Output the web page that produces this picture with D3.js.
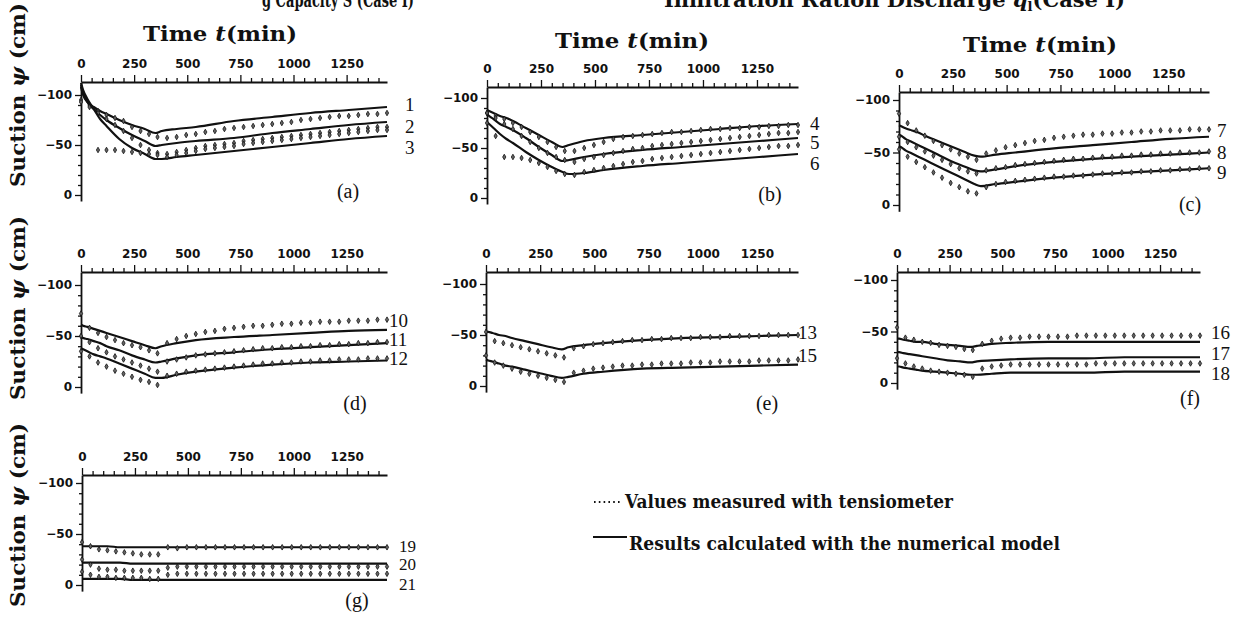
<!DOCTYPE html>
<html><head><meta charset="utf-8">
<script src="https://cdn.jsdelivr.net/npm/d3@7"></script>
<style>body{margin:0;background:#fff}svg{display:block}</style>
</head><body><svg id="c" width="1245" height="629"></svg>
<script>
// ---------- DATA ----------
const measT = [0,40,80,120,160,200,240,280,320,360,405,450,495,540,585,630,675,720,765,810,855,900,945,990,1035,1080,1125,1170,1215,1260,1305,1350,1395,1440];
const calcT = [0,10,30,60,90,120,180,240,300,350,380,450,540,720,900,1080,1260,1440];
const timeTickLabels = [0,250,500,750,1000,1250];
const suctionTickLabels = [-100,-50,0];
const panelNames = ["(a)","(b)","(c)","(d)","(e)","(f)","(g)"];
const panelSensors = [[1,2,3],[4,5,6],[7,8,9],[10,11,12],[13,15],[16,17,18],[19,20,21]];

const calc1 = [-108,-100,-93,-88,-84,-81,-75,-70,-66,-62,-64,-66,-68,-74,-78,-82,-85,-88];
const calc2 = [-110,-102,-93,-86,-80,-75,-67,-60,-54,-49,-50,-52,-54,-57,-62,-66,-70,-73];
const calc3 = [-112,-105,-96,-86,-76,-69,-56,-47,-41,-36,-36,-38,-40,-44,-48,-52,-56,-59];
const calc4 = [-88,-87,-85,-82,-80,-77,-70,-63,-56,-51,-53,-57,-60,-63,-66,-69,-72,-74];
const calc5 = [-84,-82,-79,-74,-71,-68,-60,-51,-43,-37,-38,-41,-44,-48,-51,-54,-57,-60];
const calc6 = [-76,-74,-70,-64,-59,-55,-46,-38,-31,-26,-24,-25,-28,-32,-35,-38,-41,-44];
const calc7 = [-76,-75,-73,-71,-69,-66,-61,-56,-51,-47,-46,-48,-50,-54,-57,-60,-63,-65];
const calc8 = [-67,-66,-63,-60,-57,-54,-48,-42,-37,-33,-32,-34,-37,-41,-44,-46,-48,-50];
const calc9 = [-56,-55,-52,-49,-46,-43,-37,-31,-25,-20,-18,-20,-22,-26,-29,-31,-33,-35];
const calc10 = [-61,-60,-59,-57,-55,-53,-49,-45,-41,-38,-40,-43,-46,-49,-51,-53,-55,-56];
const calc11 = [-49,-48,-47,-45,-43,-40,-36,-31,-27,-24,-25,-28,-31,-34,-37,-39,-41,-43];
const calc12 = [-38,-37,-35,-32,-30,-28,-23,-18,-13,-9,-9,-12,-15,-19,-22,-24,-25,-26];
const calc13 = [-53,-53,-52,-50,-49,-47,-44,-41,-38,-36,-38,-40,-42,-45,-47,-48,-49,-50];
const calc15 = [-26,-25,-24,-22,-20,-19,-16,-13,-10,-8,-9,-12,-14,-17,-18,-19,-20,-21];
const calc16 = [-43,-43,-42,-41,-40,-40,-38,-37,-36,-35,-36,-38,-39,-40,-40,-40,-40,-40];
const calc17 = [-30,-30,-29,-28,-27,-26,-24,-22,-21,-20,-21,-22,-23,-24,-24,-25,-25,-25];
const calc18 = [-16,-16,-15,-14,-13,-12,-11,-10,-9,-8,-8,-9,-10,-10,-10,-11,-11,-11];
const calc19 = [-38,-38,-38,-38,-38,-38,-37,-37,-37,-37,-37,-37,-37,-37,-37,-37,-37,-37];
const calc20 = [-22,-22,-22,-22,-22,-22,-22,-21,-21,-21,-21,-21,-21,-21,-21,-21,-21,-21];
const calc21 = [-6,-6,-6,-6,-6,-6,-6,-5,-5,-5,-5,-5,-5,-5,-5,-5,-5,-5];

const meas1 = [-95,-90,-84,-80,-77,-74,-68,-64,-61,-58,-57,-58,-60,-61,-63,-64,-66,-67,-68,-69,-70,-71,-72,-73,-75,-76,-77,-78,-79,-79,-80,-81,-81,-82];
const meas2 = [-93,-88,-82,-76,-70,-64,-57,-50,-45,-42,-41,-43,-45,-47,-49,-50,-51,-52,-54,-55,-56,-57,-58,-59,-60,-61,-62,-63,-64,-65,-66,-67,-68,-68];
const meas3 = [null,null,-45,-45,-45,-44,-43,-42,-41,-40,-38,-40,-42,-44,-46,-47,-48,-49,-51,-52,-53,-54,-55,-56,-57,-58,-59,-60,-61,-62,-63,-64,-65,-65];
const meas4 = [-85,-82,-79,-75,-71,-66,-61,-56,-51,-47,-47,-50,-53,-56,-59,-61,-62,-63,-64,-65,-66,-66,-67,-68,-69,-69,-70,-70,-71,-71,-72,-72,-73,-73];
const meas5 = [-85,-80,-74,-69,-62,-56,-50,-45,-41,-38,-36,-39,-41,-43,-45,-47,-49,-50,-52,-53,-54,-55,-56,-57,-58,-59,-60,-61,-62,-63,-64,-65,-65,-66];
const meas6 = [-75,-62,-41,-41,-40,-38,-35,-31,-27,-24,-23,-26,-28,-30,-32,-34,-36,-37,-39,-40,-41,-42,-43,-44,-45,-46,-47,-48,-49,-50,-51,-52,-52,-53];
const meas7 = [-87,-78,-71,-66,-61,-57,-53,-49,-46,-43,-49,-52,-55,-57,-59,-61,-62,-64,-65,-66,-67,-67,-68,-68,-69,-69,-70,-70,-71,-71,-71,-72,-72,-72];
const meas8 = [-65,-60,-55,-51,-47,-43,-39,-35,-32,-30,-33,-35,-36,-38,-39,-40,-41,-42,-43,-44,-44,-45,-46,-46,-47,-47,-48,-48,-49,-49,-50,-50,-50,-51];
const meas9 = [-53,-46,-41,-36,-31,-26,-21,-17,-13,-11,-17,-20,-22,-23,-24,-25,-26,-27,-27,-28,-28,-29,-30,-30,-31,-31,-32,-32,-33,-33,-34,-34,-35,-35];
const meas10 = [-72,-58,-53,-49,-46,-43,-41,-39,-36,-33,-43,-47,-50,-52,-54,-55,-57,-58,-59,-60,-60,-61,-62,-62,-63,-63,-64,-64,-64,-65,-65,-65,-66,-66];
const meas11 = [-50,-44,-38,-34,-30,-27,-24,-21,-18,-15,-25,-27,-29,-31,-32,-33,-34,-35,-36,-37,-38,-38,-39,-39,-40,-40,-41,-41,-42,-42,-43,-43,-44,-44];
const meas12 = [-35,-30,-24,-20,-16,-13,-10,-7,-5,-2,-11,-13,-15,-16,-17,-18,-19,-20,-21,-22,-23,-23,-24,-24,-25,-25,-26,-26,-27,-27,-27,-28,-28,-28];
const meas13 = [-53,-44,-42,-40,-38,-36,-34,-32,-30,-28,-37,-39,-41,-42,-43,-44,-45,-45,-46,-46,-47,-47,-47,-48,-48,-48,-49,-49,-49,-49,-50,-50,-50,-50];
const meas15 = [-30,-23,-20,-17,-14,-12,-10,-8,-6,-4,-13,-15,-17,-18,-19,-20,-20,-21,-21,-22,-22,-22,-23,-23,-23,-24,-24,-24,-24,-25,-25,-25,-25,-26];
const meas16 = [-54,-44,-42,-40,-39,-37,-36,-35,-33,-32,-38,-41,-43,-44,-44,-45,-45,-45,-45,-45,-46,-46,-46,-46,-46,-46,-46,-46,-46,-46,-46,-46,-46,-46];
const meas17 = [];
const meas18 = [-24,-19,-16,-14,-12,-11,-10,-9,-8,-6,-14,-16,-17,-18,-18,-18,-18,-18,-18,-18,-18,-18,-19,-19,-19,-19,-19,-19,-19,-19,-19,-19,-19,-19];
const meas19 = [-42,-38,-35,-34,-33,-32,-31,-30,-30,-30,-37,-36,-37,-37,-37,-37,-37,-37,-37,-37,-37,-37,-37,-37,-37,-37,-37,-37,-37,-37,-37,-37,-37,-37];
const meas20 = [-25,-20,-16,-15,-15,-14,-14,-14,-14,-14,-17,-18,-18,-18,-18,-18,-18,-18,-18,-18,-18,-18,-18,-18,-18,-18,-18,-18,-18,-18,-18,-18,-18,-18];
const meas21 = [-13,-10,-8,-8,-7,-7,-7,-7,-6,-6,-10,-11,-11,-11,-11,-11,-11,-11,-11,-11,-11,-11,-11,-11,-11,-11,-11,-11,-11,-11,-11,-11,-11,-11];

const calcBy = {1:calc1,2:calc2,3:calc3,4:calc4,5:calc5,6:calc6,7:calc7,8:calc8,9:calc9,10:calc10,11:calc11,12:calc12,13:calc13,15:calc15,16:calc16,17:calc17,18:calc18,19:calc19,20:calc20,21:calc21};
const measBy = {1:meas1,2:meas2,3:meas3,4:meas4,5:meas5,6:meas6,7:meas7,8:meas8,9:meas9,10:meas10,11:meas11,12:meas12,13:meas13,15:meas15,16:meas16,17:meas17,18:meas18,19:meas19,20:meas20,21:meas21};

// ---------- LAYOUT ----------
const layout = [
  {left:81, right:387, y100:95, y0:195, axisY:82, lab:[348,191], nx:405, ny:[104,126,147], fs:19},
  {left:487,right:798, y100:98, y0:198, axisY:87, lab:[770,194], nx:810, ny:[123,142,163], fs:19},
  {left:899,right:1209,y100:100,y0:205, axisY:92, lab:[1190,204],nx:1217,ny:[130,152,172], fs:19},
  {left:81, right:387, y100:285,y0:387, axisY:272,lab:[355,403], nx:389, ny:[320,339,358], fs:19},
  {left:486,right:798, y100:284,y0:386, axisY:272,lab:[767,403], nx:798, ny:[332,355], fs:19},
  {left:897,right:1200,y100:280,y0:383, axisY:272,lab:[1190,398],nx:1211,ny:[332,353,373], fs:19},
  {left:82, right:387, y100:483,y0:585, axisY:475,lab:[357,600], nx:399, ny:[546,564,584], fs:17}
];

const svg = d3.select("#c");
const serif = "'DejaVu Serif','Liberation Serif',serif";
const times = "'Liberation Serif','Times New Roman',serif";
const sans = "'DejaVu Sans',sans-serif";
const ink = "#111";

// top titles (cropped by the upper edge, as in the source figure)
svg.append("text").attr("x",262).attr("y",7).attr("font-family",serif).attr("font-weight","bold")
  .attr("font-size",21).attr("fill",ink).attr("textLength",152).attr("lengthAdjust","spacingAndGlyphs")
  .text("g Capacity S (Case I)");
const t2 = svg.append("text").attr("x",664).attr("y",7).attr("font-family",serif).attr("font-weight","bold")
  .attr("font-size",21).attr("fill",ink);
t2.append("tspan").text("Infiltration Ration Discharge ");
t2.append("tspan").attr("font-style","italic").text("q");
t2.append("tspan").attr("font-size",13).attr("dy",4).text("l");
t2.append("tspan").attr("dy",-4).text("(Case I)");

// time titles
[[220,41],[632,48],[1040,52]].forEach(p=>{
  const t = svg.append("text").attr("x",p[0]).attr("y",p[1]).attr("text-anchor","middle")
    .attr("font-family",serif).attr("font-weight","bold").attr("font-size",20).attr("fill",ink)
    .attr("textLength",154).attr("lengthAdjust","spacingAndGlyphs");
  t.append("tspan").text("Time ");
  t.append("tspan").attr("font-style","italic").text("t");
  t.append("tspan").text("(min)");
});

// y titles
[95,308,515].forEach(cy=>{
  const t = svg.append("text").attr("transform",`translate(25,${cy}) rotate(-90)`).attr("text-anchor","middle")
    .attr("font-family",serif).attr("font-weight","bold").attr("font-size",20).attr("fill",ink)
    .attr("textLength",184).attr("lengthAdjust","spacingAndGlyphs");
  t.append("tspan").text("Suction ");
  t.append("tspan").attr("font-style","italic").text("ψ");
  t.append("tspan").text(" (cm)");
});

const minorT = d3.range(0,1441,50).filter(t=>t%250!==0);
const minorY = d3.range(-110,1,10).filter(v=>v%50!==0);

layout.forEach((L,i)=>{
  const g = svg.append("g");
  const x = d3.scaleLinear().domain([0,1440]).range([L.left,L.right]);
  const y = d3.scaleLinear().domain([-100,0]).range([L.y100,L.y0]);
  const yAx = d3.scaleLinear().domain([y.invert(L.axisY),6]).range([L.axisY,y(6)]);

  g.append("g").attr("transform",`translate(0,${L.axisY})`)
    .call(d3.axisTop(x).tickValues(timeTickLabels).tickSize(7).tickSizeOuter(0).tickPadding(7).tickFormat(d3.format("d")));
  g.append("g").attr("transform",`translate(0,${L.axisY})`)
    .call(d3.axisTop(x).tickValues(minorT).tickSize(4).tickFormat(""))
    .call(s=>s.select(".domain").remove());
  g.append("g").attr("transform",`translate(${L.left},0)`)
    .call(d3.axisLeft(yAx).tickValues(suctionTickLabels).tickSize(6).tickSizeOuter(0).tickPadding(3));
  g.append("g").attr("transform",`translate(${L.left},0)`)
    .call(d3.axisLeft(yAx).tickValues(minorY.filter(v=>yAx(v)>=L.axisY+3)).tickSize(3).tickFormat(""))
    .call(s=>s.select(".domain").remove());
  g.selectAll(".domain").attr("stroke",ink).attr("stroke-width",1.8);
  g.selectAll(".tick line").attr("stroke",ink).attr("stroke-width",1.3);
  g.selectAll(".tick text").attr("font-family",sans).attr("font-weight","bold").attr("font-size",12).attr("fill",ink);

  const line = d3.line().x(d=>x(d[0])).y(d=>y(d[1])).curve(d3.curveMonotoneX);
  panelSensors[i].forEach((s,k)=>{
    const c = calcT.map((t,j)=>[t,calcBy[s][j]]);
    g.append("path").attr("d",line(c)).attr("fill","none").attr("stroke",ink).attr("stroke-width",2.2);
    const m = measBy[s].map((v,j)=>[measT[j],v]).filter(d=>d[1]!=null);
    g.selectAll(null).data(m).join("path")
      .attr("d",d3.symbol(d3.symbolDiamond,9))
      .attr("transform",d=>`translate(${x(d[0])},${y(d[1])})`)
      .attr("fill","#666").attr("stroke",ink).attr("stroke-width",0.8);
    g.append("text").attr("x",L.nx).attr("y",L.ny[k]).attr("dy","0.35em")
      .attr("font-family",times).attr("font-size",L.fs).attr("fill",ink).text(s);
  });
  g.append("text").attr("x",L.lab[0]).attr("y",L.lab[1]).attr("dy","0.35em").attr("text-anchor","middle")
    .attr("font-family",times).attr("font-size",20).attr("fill",ink).text(panelNames[i]);
});

// legend
svg.append("line").attr("x1",594).attr("x2",621).attr("y1",502).attr("y2",502)
  .attr("stroke",ink).attr("stroke-width",2).attr("stroke-dasharray","1.6,3.2");
svg.append("text").attr("x",625).attr("y",508).attr("font-family",serif).attr("font-weight","bold")
  .attr("font-size",19).attr("fill",ink).attr("textLength",328).attr("lengthAdjust","spacingAndGlyphs")
  .text("Values measured with tensiometer");
svg.append("line").attr("x1",593).attr("x2",627).attr("y1",537).attr("y2",537)
  .attr("stroke",ink).attr("stroke-width",2);
svg.append("text").attr("x",629).attr("y",550).attr("font-family",serif).attr("font-weight","bold")
  .attr("font-size",19).attr("fill",ink).attr("textLength",431).attr("lengthAdjust","spacingAndGlyphs")
  .text("Results calculated with the numerical model");
</script></body></html>
